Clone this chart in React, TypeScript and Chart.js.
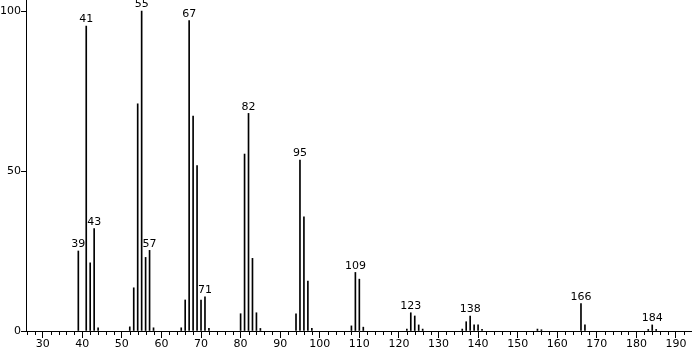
import React, { useEffect, useRef } from "react";
import { Chart, registerables } from "chart.js";

Chart.register(...registerables);

const mz = [39, 41, 42, 43, 44, 52, 53, 54, 55, 56, 57, 58, 65, 66, 67, 68, 69, 70, 71, 72, 80, 81, 82, 83, 84, 85, 94, 95, 96, 97, 98, 108, 109, 110, 111, 122, 123, 124, 125, 126, 136, 137, 138, 139, 140, 141, 155, 156, 166, 167, 183, 184, 185];
const intensity = [25, 95.3, 21.3, 32, 1, 1.3, 13.5, 71, 100, 23, 25.2, 1, 1, 9.7, 97, 67.2, 51.7, 9.7, 10.7, 0.8, 5.4, 55.3, 68, 22.7, 5.7, 0.8, 5.4, 53.4, 35.7, 15.6, 0.8, 1.6, 18.3, 16.2, 1.2, 0.6, 5.7, 4.7, 1.9, 0.6, 0.6, 2.9, 4.7, 1.9, 1.9, 0.5, 0.6, 0.4, 8.6, 1.9, 0.5, 1.9, 0.5];
const labeledPeaks = [39, 41, 43, 55, 57, 67, 71, 82, 95, 109, 123, 138, 166, 184];
const xTickValues = [30, 40, 50, 60, 70, 80, 90, 100, 110, 120, 130, 140, 150, 160, 170, 180, 190];
const yTickValues = [0, 50, 100];

const FONT = '"DejaVu Sans", sans-serif';

const annotPlugin = {
  id: "annot",
  afterDatasetsDraw(chart: any) {
    const { ctx, scales } = chart;
    const x = scales.x;
    const y = scales.y;
    ctx.save();
    ctx.fillStyle = "#000";
    ctx.font = "11px " + FONT;
    ctx.textAlign = "center";
    ctx.textBaseline = "bottom";
    labeledPeaks.forEach((m) => {
      const i = mz.indexOf(m);
      ctx.fillText(String(m), x.getPixelForValue(m), y.getPixelForValue(intensity[i]) - 1);
    });
    ctx.strokeStyle = "#000";
    ctx.lineWidth = 1;
    for (let v = 26; v <= 194; v += 2) {
      if (v % 10 === 0) continue;
      const px = Math.round(x.getPixelForValue(v)) + 0.5;
      ctx.beginPath();
      ctx.moveTo(px, y.bottom);
      ctx.lineTo(px, y.bottom + 4);
      ctx.stroke();
    }
    ctx.restore();
  },
};

export default function App() {
  const ref = useRef<HTMLCanvasElement>(null);
  useEffect(() => {
    if (!ref.current) return;
    const chart = new Chart(ref.current, {
      type: "bar",
      data: {
        datasets: [
          {
            data: mz.map((m, i) => ({ x: m, y: intensity[i] })),
            backgroundColor: "#000",
            borderWidth: 0,
            barThickness: 1,
          },
        ],
      },
      options: {
        responsive: false,
        animation: false,
        events: [],
        layout: { padding: 0 },
        plugins: { legend: { display: false }, tooltip: { enabled: false } },
        scales: {
          x: {
            type: "linear",
            offset: false,
            min: 25.78,
            max: 194.05,
            afterFit: (s: any) => { s.height = 19; s.paddingLeft = 0; s.paddingRight = 0; },
            afterBuildTicks: (s: any) => { s.ticks = xTickValues.map((v) => ({ value: v })); },
            grid: { drawOnChartArea: false, tickLength: 7, color: "#000", tickWidth: 1, offset: false },
            border: { display: true, color: "#000", width: 1 },
            ticks: { autoSkip: false, maxRotation: 0, color: "#000", padding: 0, font: { family: FONT, size: 11 } },
          },
          y: {
            type: "linear",
            min: 0,
            max: 103.44,
            grace: 0,
            afterFit: (s: any) => { s.width = 26; s.paddingTop = 0; s.paddingBottom = 0; },
            afterBuildTicks: (s: any) => { s.ticks = yTickValues.map((v) => ({ value: v })); },
            grid: { drawOnChartArea: false, tickLength: 5, color: "#000", tickWidth: 1 },
            border: { display: true, color: "#000", width: 1 },
            ticks: { color: "#000", padding: 0, font: { family: FONT, size: 11 } },
          },
        },
      },
      plugins: [annotPlugin],
    });
    return () => chart.destroy();
  }, []);
  return (
    <div style={{ position: "fixed", left: 0, top: 0, width: 692, height: 350, background: "#fff" }}>
      <canvas ref={ref} width={692} height={350} style={{ display: "block" }} />
    </div>
  );
}
